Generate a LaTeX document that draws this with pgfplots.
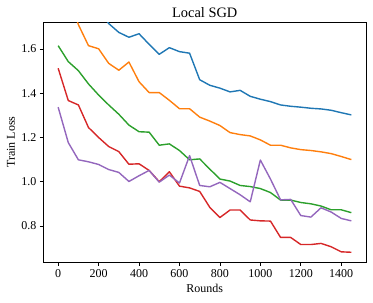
\documentclass[border=0pt]{standalone}
\usepackage{fontspec}
\setmainfont{Liberation Serif}
\usepackage{pgfplots}
\pgfplotsset{compat=1.18}
\definecolor{c0}{HTML}{1F77B4}
\definecolor{c1}{HTML}{FF7F0E}
\definecolor{c2}{HTML}{2CA02C}
\definecolor{c3}{HTML}{D62728}
\definecolor{c4}{HTML}{9467BD}
\begin{document}
\begin{tikzpicture}
\begin{axis}[
  name=ax,
  scale only axis, width=322.5pt, height=240pt,
  xmin=-72.5, xmax=1522.5, ymin=0.637, ymax=1.722,
  xtick={0,200,...,1400}, ytick={0.8,1.0,1.2,1.4,1.6},
  yticklabel style={/pgf/number format/fixed,/pgf/number format/fixed zerofill,/pgf/number format/precision=1},
  /pgf/number format/assume math mode=true,
  scaled x ticks=false,
  xticklabel style={/pgf/number format/1000 sep={}},
  tick align=outside, major tick length=3.5pt,
  tick style={black, line width=0.6pt},
  xtick pos=bottom, ytick pos=left,
  axis line style={black, line width=0.6pt},
  ticklabel style={font=\fontsize{12}{14}\selectfont},
  title={Local SGD}, xlabel={Rounds}, ylabel={Train Loss},
  every axis title/.style={at={([yshift=4.7pt]axis description cs:0.5,1)}, anchor=base, font=\fontsize{14.4}{16}\selectfont},
  every axis x label/.style={at={([yshift=-30pt]axis description cs:0.5,0)}, anchor=base, font=\fontsize{12}{14}\selectfont},
  every axis y label/.style={at={([xshift=-28.5pt]axis description cs:0,0.5)}, anchor=base, rotate=90, font=\fontsize{12}{14}\selectfont},
  every axis plot/.append style={line width=1.4pt, line join=round},
]
\addplot[c0] coordinates {(0,2.10)(50,2.00)(100,1.92)(150,1.85)(200,1.78)(250,1.715)(300,1.675)(350,1.653)(400,1.669)(450,1.621)(500,1.576)(550,1.606)(600,1.588)(650,1.581)(700,1.461)(750,1.436)(800,1.423)(850,1.406)(900,1.413)(950,1.386)(1000,1.373)(1050,1.362)(1100,1.347)(1150,1.341)(1200,1.337)(1250,1.332)(1300,1.329)(1350,1.323)(1400,1.312)(1450,1.302)};
\addplot[c1] coordinates {(0,2.00)(50,1.85)(100,1.71)(150,1.615)(200,1.601)(250,1.535)(300,1.504)(350,1.541)(400,1.452)(450,1.403)(500,1.403)(550,1.368)(600,1.330)(650,1.330)(700,1.292)(750,1.274)(800,1.254)(850,1.222)(900,1.213)(950,1.207)(1000,1.189)(1050,1.165)(1100,1.165)(1150,1.153)(1200,1.145)(1250,1.141)(1300,1.135)(1350,1.127)(1400,1.114)(1450,1.100)};
\addplot[c2] coordinates {(0,1.615)(50,1.543)(100,1.502)(150,1.442)(200,1.392)(250,1.347)(300,1.305)(350,1.256)(400,1.226)(450,1.224)(500,1.165)(550,1.171)(600,1.141)(650,1.099)(700,1.103)(750,1.057)(800,1.012)(850,1.003)(900,0.983)(950,0.978)(1000,0.969)(1050,0.951)(1100,0.917)(1150,0.917)(1200,0.906)(1250,0.900)(1300,0.890)(1350,0.873)(1400,0.873)(1450,0.860)};
\addplot[c3] coordinates {(0,1.513)(50,1.367)(100,1.347)(150,1.245)(200,1.200)(250,1.159)(300,1.136)(350,1.079)(400,1.081)(450,1.051)(500,1.000)(550,1.045)(600,0.980)(650,0.972)(700,0.956)(750,0.884)(800,0.838)(850,0.872)(900,0.872)(950,0.827)(1000,0.823)(1050,0.822)(1100,0.748)(1150,0.748)(1200,0.716)(1250,0.716)(1300,0.721)(1350,0.706)(1400,0.683)(1450,0.681)};
\addplot[c4] coordinates {(0,1.337)(50,1.177)(100,1.099)(150,1.090)(200,1.078)(250,1.055)(300,1.042)(350,1.001)(400,1.027)(450,1.051)(500,0.998)(550,1.030)(600,0.994)(650,1.118)(700,0.983)(750,0.977)(800,0.997)(850,0.969)(900,0.941)(950,0.909)(1000,1.098)(1050,1.012)(1100,0.918)(1150,0.920)(1200,0.847)(1250,0.840)(1300,0.882)(1350,0.863)(1400,0.834)(1450,0.823)};
\end{axis}
\path ([xshift=-43.5pt,yshift=-41pt]ax.south west) rectangle ([xshift=7pt,yshift=22pt]ax.north east);
\end{tikzpicture}
\end{document}
